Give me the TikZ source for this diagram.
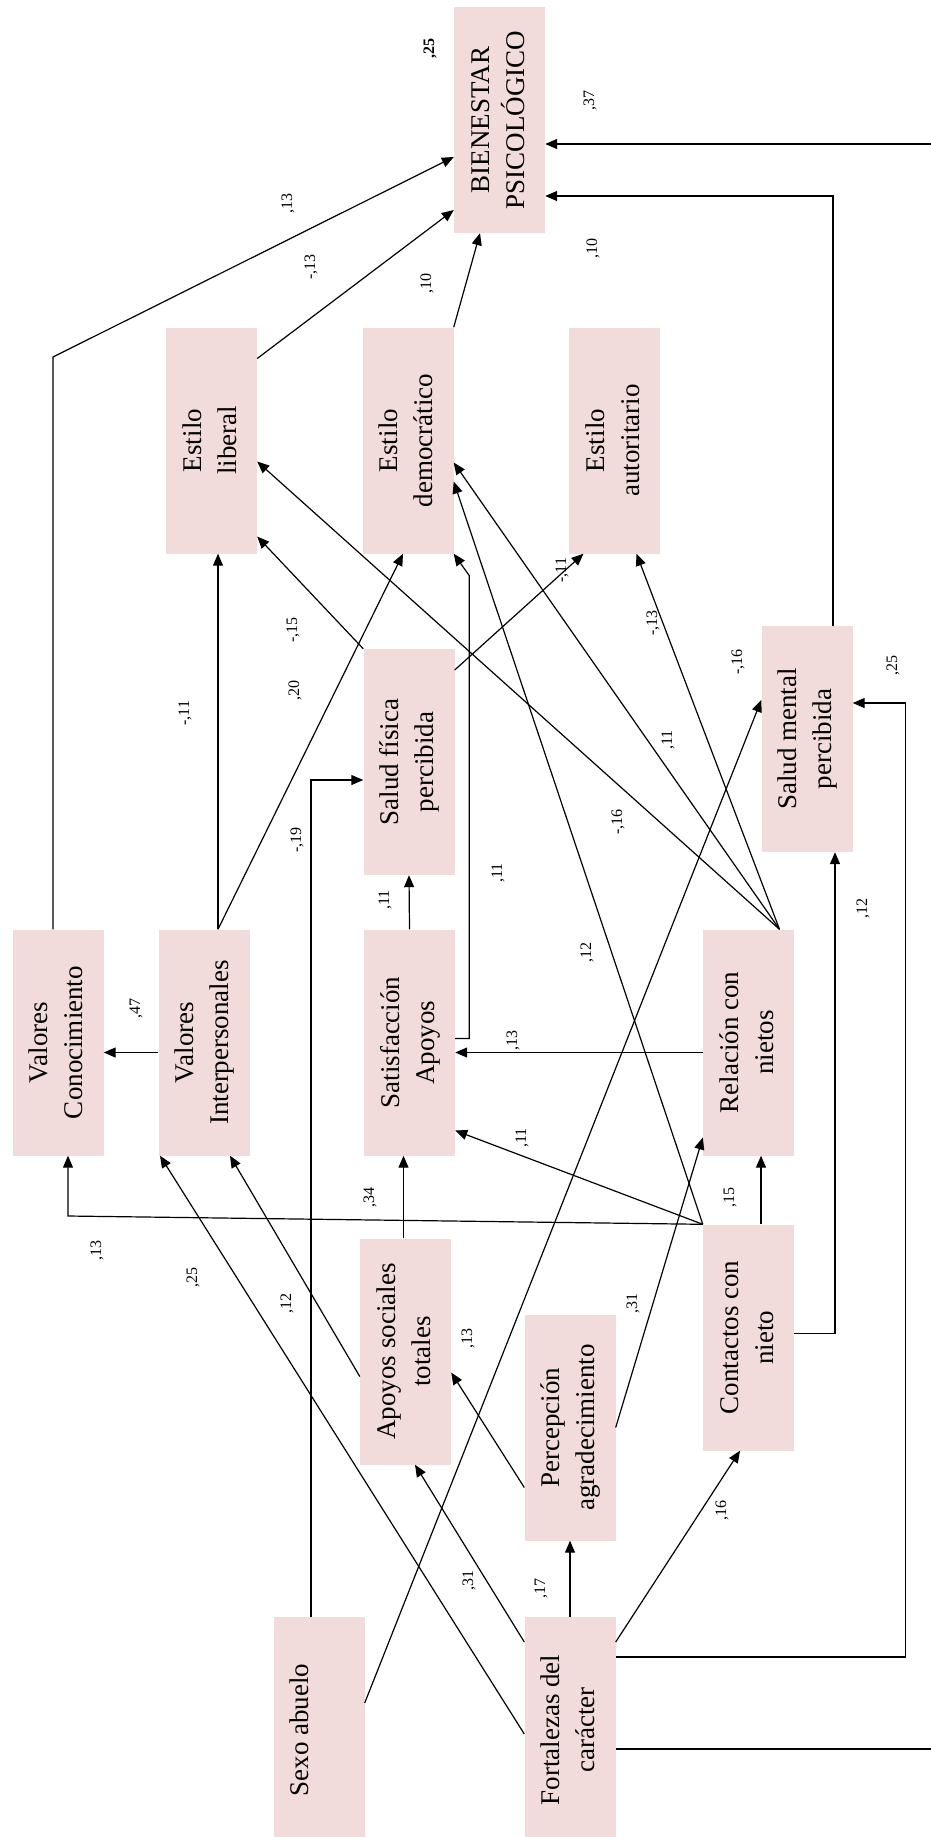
\documentclass[tikz,border=0pt]{standalone}
\usepackage{fontspec}
\setmainfont{Liberation Serif}
\usepackage{xcolor}
\usepackage{tikz}
\usetikzlibrary{arrows.meta,positioning,calc}
\definecolor{varpink}{RGB}{242,220,219}
\newcommand{\vtext}[1]{\rotatebox{90}{\begin{tabular}{@{}c@{}}#1\end{tabular}}}

\begin{document}
\begin{tikzpicture}[
  x=1pt, y=-1pt,
  var/.style={fill=varpink, minimum width=91pt, minimum height=226pt, inner sep=0pt, font=\fontsize{27}{35}\selectfont},
  conn/.style={line width=1.2pt, -{Triangle[length=12pt,width=10pt]}},
  coef/.style={rotate=90, font=\fontsize{16}{18}\selectfont, inner sep=1pt}
]
\useasboundingbox (0,0) rectangle (930,1837);

\node[var] (bien) at (499.5,120) {\vtext{BIENESTAR\\PSICOLÓGICO}};
\node[var] (lib) at (211.5,440.5) {\vtext{Estilo\\liberal}};
\node[var] (dem) at (408,440.5) {\vtext{Estilo\\democrático}};
\node[var] (aut) at (614.5,440.5) {\vtext{Estilo\\autoritario}};
\node[var] (sfis) at (409,762) {\vtext{Salud física\\percibida}};
\node[var] (smen) at (807,739) {\vtext{Salud mental\\percibida}};
\node[var] (vcon) at (58,1042.5) {\vtext{Valores\\Conocimiento}};
\node[var] (vint) at (204,1042.5) {\vtext{Valores\\Interpersonales}};
\node[var] (sat) at (409.5,1042.5) {\vtext{Satisfacción\\Apoyos}};
\node[var] (rel) at (748.5,1042.5) {\vtext{Relación con\\nietos}};
\node[var] (apo) at (405.5,1351.5) {\vtext{Apoyos sociales\\totales}};
\node[var] (cont) at (748.5,1337.5) {\vtext{Contactos con\\nieto}};
\node[var] (perc) at (570,1427.5) {\vtext{Percepción\\agradecimiento}};
\node[var] (sexo) at (319,1730) {\vtext{Sexo abuelo\\\mbox{}}};
\node[var] (fort) at (570,1730) {\vtext{Fortalezas del\\carácter}};

\coordinate (vconbend) at (53,357);
\coordinate (vconfoot) at (68,1216);

\draw[conn] ([xshift=-5pt]vcon.north) -- (vconbend) -- ([yshift=-37pt]bien.west);
\draw[conn] ([yshift=82pt]lib.east) -- ([yshift=-90pt]bien.west);
\draw[conn] (dem.north east) -- ([xshift=-19.5pt]bien.south);
\draw[conn] ([yshift=-19pt]fort.east) -- ++(325,0) |- ([yshift=-24pt]bien.east);
\draw[conn] ([xshift=26pt]smen.north) |- ([yshift=-76pt]bien.east);

\draw[conn] ([xshift=14pt]vint.north) -- ([xshift=6.5pt]lib.south);
\draw[conn] (sfis.north west) -- ([yshift=-96pt]lib.east);
\draw[conn] ([xshift=31pt]rel.north) -- ([yshift=-21pt]lib.east);
\draw[conn] ([xshift=14pt]vint.north) -- ([xshift=-5pt]dem.south);
\draw[conn] ([yshift=4pt]sat.east) -- ++(14,0) -- ++(0,-463) -- (dem.south east);
\draw[conn] ([xshift=31pt]rel.north) -- ([yshift=-22pt]dem.east);
\draw[conn] (cont.north west) -- ([yshift=-41pt]dem.east);
\draw[conn] ([yshift=92pt]sfis.east) -- ([xshift=-31pt]aut.south);
\draw[conn] ([xshift=31pt]rel.north) -- ([xshift=22pt]aut.south);

\draw[conn] (sat.north) -- (sfis.south);
\draw[conn] ([xshift=-8pt]sexo.north) |- ([yshift=-18pt]sfis.west);
\draw[conn] ([yshift=27pt]sexo.east) -- ([yshift=39pt]smen.west);
\draw[conn] ([yshift=73pt]fort.east) -- ++(289.5,0) |- ([yshift=36pt]smen.east);
\draw[conn] ([yshift=4pt]cont.east) -| ([xshift=28pt]smen.south);

\draw[conn] ([yshift=-10pt]vint.west) -- ([yshift=-10pt]vcon.east);
\draw[conn] ([yshift=-10pt]rel.west) -- ([yshift=-10pt]sat.east);
\draw[conn] (cont.north west) -- ([yshift=-88pt]sat.east);
\draw[conn] (cont.north west) -- (vconfoot) -- ([xshift=10pt]vcon.south);
\draw[conn] ([xshift=12.5pt]cont.north) -- ([xshift=12.5pt]rel.south);
\draw[conn] ([xshift=-2pt]apo.north) -- ([xshift=-6pt]sat.south);
\draw[conn] ([yshift=-4pt]fort.west) -- ([xshift=-44pt]vint.south);
\draw[conn] ([yshift=-25pt]apo.west) -- ([xshift=26pt]vint.south);
\draw[conn] ([yshift=-60pt]perc.west) -- ([yshift=-21pt]apo.east);
\draw[conn] (perc.east) -- ([yshift=-95pt]rel.west);
\draw[conn] (fort.north) -- (perc.south);
\draw[conn] ([yshift=88pt]fort.west) -- ([xshift=9.5pt]apo.south);
\draw[conn] ([yshift=88pt]fort.east) -- ([xshift=-8.5pt]cont.south);

\node[coef] (r2bien) at (430,48) {\textbf{,25}};
\node[coef] (w-vcon-bien) at (288,203) {,13};
\node[coef] (w-lib-bien) at (311,267) {-,13};
\node[coef] (w-dem-bien) at (427,283) {,10};
\node[coef] (w-fort-bien) at (590,100) {,37};
\node[coef] (w-smen-bien) at (593,248) {,10};
\node[coef] (w-vint-lib) at (185,713) {-,11};
\node[coef] (w-sfis-lib) at (293,630) {-,15};
\node[coef] (w-rel-lib) at (618,822) {-,16};
\node[coef] (w-vint-dem) at (295,690) {,20};
\node[coef] (w-sat-dem) at (498,873) {,11};
\node[coef] (w-rel-dem) at (668,740) {,11};
\node[coef] (w-cont-dem) at (587,952) {,12};
\node[coef] (w-sfis-aut) at (562,570) {-,11};
\node[coef] (w-rel-aut) at (653,623) {-,13};
\node[coef] (w-sat-sfis) at (385,900) {,11};
\node[coef] (w-sexo-sfis) at (297,840) {-,19};
\node[coef] (w-sexo-smen) at (738,662) {-,16};
\node[coef] (w-fort-smen) at (893,665) {,25};
\node[coef] (w-cont-smen) at (863,908) {,12};
\node[coef] (w-vint-vcon) at (136,1008) {,47};
\node[coef] (w-rel-sat) at (513,1040) {,13};
\node[coef] (w-cont-sat) at (522,1138) {,11};
\node[coef] (w-cont-vcon) at (97,1250) {,13};
\node[coef] (w-cont-rel) at (730,1197) {,15};
\node[coef] (w-apo-sat) at (370,1197) {,34};
\node[coef] (w-fort-vint) at (193,1277) {,25};
\node[coef] (w-apo-vint) at (287,1303) {,12};
\node[coef] (w-perc-apo) at (468,1338) {,13};
\node[coef] (w-perc-rel) at (633,1303) {,31};
\node[coef] (w-fort-perc) at (541,1588) {,17};
\node[coef] (w-fort-apo) at (469,1580) {,31};
\node[coef] (w-fort-cont) at (722,1510) {,16};
\end{tikzpicture}
\end{document}
